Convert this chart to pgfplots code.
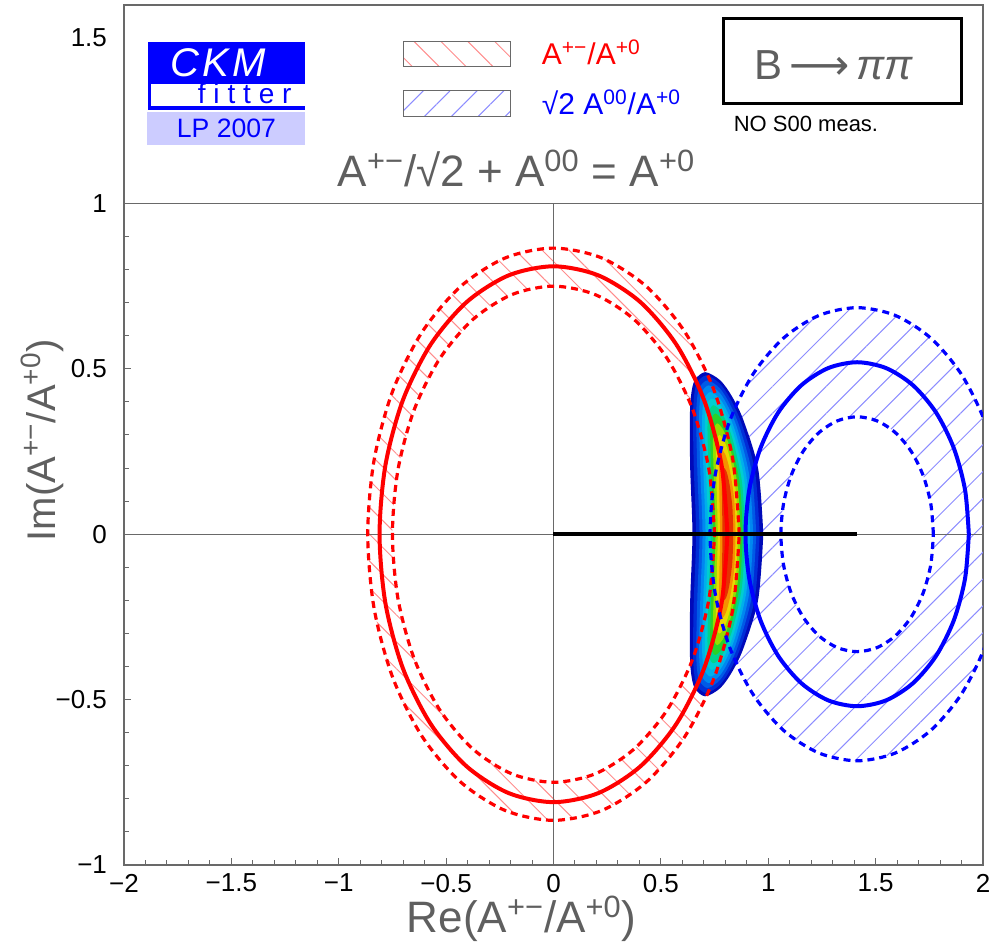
\documentclass[border=0pt]{standalone}
\usepackage{fontspec}
\setmainfont{Liberation Sans}
\newfontfamily\djv{DejaVu Sans}
\usepackage{pgfplots}
\usepackage{pgfplotstable}
\pgfplotsset{compat=1.18}
\usepgfplotslibrary{fillbetween}
\usetikzlibrary{patterns.meta}

\definecolor{axgray}{RGB}{105,105,105}
\definecolor{txtgray}{RGB}{95,95,95}
\definecolor{ckmblue}{RGB}{0,0,255}
\definecolor{lpbg}{RGB}{204,204,255}
\definecolor{hatchred}{RGB}{255,140,140}
\definecolor{hatchblue}{RGB}{140,140,255}
% likelihood levels, outermost to innermost
\definecolor{b1}{RGB}{0,10,185}
\definecolor{b2}{RGB}{0,45,215}
\definecolor{b3}{RGB}{0,90,230}
\definecolor{b4}{RGB}{0,135,240}
\definecolor{b5}{RGB}{0,175,235}
\definecolor{b6}{RGB}{0,205,210}
\definecolor{b7}{RGB}{0,210,140}
\definecolor{b8}{RGB}{40,210,40}
\definecolor{b9}{RGB}{150,220,0}
\definecolor{b10}{RGB}{235,215,0}
\definecolor{b11}{RGB}{245,145,0}
\definecolor{b12}{RGB}{230,50,0}

\newcommand{\spr}[1]{\textsuperscript{#1}}

% |A+-/A+0| constraint: central value and 1 sigma band (circles about 0)
\pgfplotstableread{
x y
0.81 0
0.7824 0.2096
0.7015 0.405
0.5728 0.5728
0.405 0.7015
0.2096 0.7824
0 0.81
-0.2096 0.7824
-0.405 0.7015
-0.5728 0.5728
-0.7015 0.405
-0.7824 0.2096
-0.81 0
-0.7824 -0.2096
-0.7015 -0.405
-0.5728 -0.5728
-0.405 -0.7015
-0.2096 -0.7824
0 -0.81
0.2096 -0.7824
0.405 -0.7015
0.5728 -0.5728
0.7015 -0.405
0.7824 -0.2096
0.81 0
}\redmid
\pgfplotstableread{
x y
0.865 0
0.8355 0.2239
0.7491 0.4325
0.6116 0.6116
0.4325 0.7491
0.2239 0.8355
0 0.865
-0.2239 0.8355
-0.4325 0.7491
-0.6116 0.6116
-0.7491 0.4325
-0.8355 0.2239
-0.865 0
-0.8355 -0.2239
-0.7491 -0.4325
-0.6116 -0.6116
-0.4325 -0.7491
-0.2239 -0.8355
0 -0.865
0.2239 -0.8355
0.4325 -0.7491
0.6116 -0.6116
0.7491 -0.4325
0.8355 -0.2239
0.865 0
}\redout
\pgfplotstableread{
x y
0.75 0
0.7244 0.1941
0.6495 0.375
0.5303 0.5303
0.375 0.6495
0.1941 0.7244
0 0.75
-0.1941 0.7244
-0.375 0.6495
-0.5303 0.5303
-0.6495 0.375
-0.7244 0.1941
-0.75 0
-0.7244 -0.1941
-0.6495 -0.375
-0.5303 -0.5303
-0.375 -0.6495
-0.1941 -0.7244
0 -0.75
0.1941 -0.7244
0.375 -0.6495
0.5303 -0.5303
0.6495 -0.375
0.7244 -0.1941
0.75 0
}\redin
% sqrt2 |A00/A+0| constraint: circles about sqrt2
\pgfplotstableread{
x y
1.934 0
1.9163 0.1346
1.8643 0.26
1.7817 0.3677
1.674 0.4503
1.5486 0.5023
1.414 0.52
1.2794 0.5023
1.154 0.4503
1.0463 0.3677
0.9637 0.26
0.9117 0.1346
0.894 0
0.9117 -0.1346
0.9637 -0.26
1.0463 -0.3677
1.154 -0.4503
1.2794 -0.5023
1.414 -0.52
1.5486 -0.5023
1.674 -0.4503
1.7817 -0.3677
1.8643 -0.26
1.9163 -0.1346
1.934 0
}\bluemid
\pgfplotstableread{
x y
2.099 0
2.0756 0.1773
2.0072 0.3425
1.8984 0.4844
1.7565 0.5932
1.5913 0.6616
1.414 0.685
1.2367 0.6616
1.0715 0.5932
0.9296 0.4844
0.8208 0.3425
0.7524 0.1773
0.729 0
0.7524 -0.1773
0.8208 -0.3425
0.9296 -0.4844
1.0715 -0.5932
1.2367 -0.6616
1.414 -0.685
1.5913 -0.6616
1.7565 -0.5932
1.8984 -0.4844
2.0072 -0.3425
2.0756 -0.1773
2.099 0
}\blueout
\pgfplotstableread{
x y
1.769 0
1.7569 0.0919
1.7214 0.1775
1.665 0.251
1.5915 0.3074
1.5059 0.3429
1.414 0.355
1.3221 0.3429
1.2365 0.3074
1.163 0.251
1.1066 0.1775
1.0711 0.0919
1.059 0
1.0711 -0.0919
1.1066 -0.1775
1.163 -0.251
1.2365 -0.3074
1.3221 -0.3429
1.414 -0.355
1.5059 -0.3429
1.5915 -0.3074
1.665 -0.251
1.7214 -0.1775
1.7569 -0.0919
1.769 0
}\bluein

\begin{document}
\begin{tikzpicture}
\begin{axis}[
  scale only axis, width=429.5pt, height=430pt,
  xmin=-2, xmax=2, ymin=-1, ymax=1.6,
  axis line style={axgray, line width=0.6pt},
  tick pos=left, tick align=inside,
  every tick/.style={axgray, line width=0.5pt},
  major tick length=3.5pt, minor tick length=2.5pt,
  xtick={-2,-1.5,-1,-0.5,0,0.5,1,1.5,2},
  xticklabels={−2,−1.5,−1,−0.5,0,0.5,1,1.5,2},
  minor x tick num=4,
  ytick={-1,-0.5,0,0.5,1},
  yticklabels={−1,−0.5,0,0.5,1},
  minor y tick num=4,
  extra y ticks={1.5}, extra y tick labels={1.5},
  extra y tick style={major tick length=0pt},
  tick label style={font=\fontsize{13}{13}\selectfont},
  yticklabel style={xshift=-5pt},
  xticklabel style={yshift=-1pt},
  xlabel={Re(A\spr{+−}/A\spr{+0})},
  ylabel={Im(A\spr{+−}/A\spr{+0})},
  label style={text=txtgray},
  xlabel style={font=\fontsize{22}{22}\selectfont, at={(axis description cs:0.463,-0.036)}, anchor=north, inner sep=0pt},
  ylabel style={font=\fontsize{20}{20}\selectfont, at={(axis description cs:-0.0955,0.494)}, anchor=center},
]
% combined likelihood, nested levels
\addplot[fill=b1, draw=none, smooth] coordinates {(0.977,0) (0.9535,0.196) (0.8856,0.343) (0.8314,0.4165) (0.7761,0.4655) (0.7064,0.49) (0.6573,0.4655) (0.6400,0.4165) (0.6348,0.343) (0.6367,0.196) (0.647,0) (0.6367,-0.196) (0.6348,-0.343) (0.6400,-0.4165) (0.6573,-0.4655) (0.7064,-0.49) (0.7761,-0.4655) (0.8314,-0.4165) (0.8856,-0.343) (0.9535,-0.196) (0.977,0)};
\addplot[fill=b2, draw=none, smooth] coordinates {(0.960,0) (0.9379,0.192) (0.8748,0.336) (0.8246,0.408) (0.7738,0.456) (0.7106,0.48) (0.6672,0.456) (0.6530,0.408) (0.6498,0.336) (0.6537,0.192) (0.664,0) (0.6537,-0.192) (0.6498,-0.336) (0.6530,-0.408) (0.6672,-0.456) (0.7106,-0.48) (0.7738,-0.456) (0.8246,-0.408) (0.8748,-0.336) (0.9379,-0.192) (0.960,0)};
\addplot[fill=b3, draw=none, smooth] coordinates {(0.944,0) (0.9235,0.186) (0.8657,0.3255) (0.8199,0.3953) (0.7736,0.4418) (0.7169,0.465) (0.6786,0.4418) (0.6667,0.3953) (0.6651,0.3255) (0.6701,0.186) (0.680,0) (0.6701,-0.186) (0.6651,-0.3255) (0.6667,-0.3953) (0.6786,-0.4418) (0.7169,-0.465) (0.7736,-0.4418) (0.8199,-0.3953) (0.8657,-0.3255) (0.9235,-0.186) (0.944,0)};
\addplot[fill=b4, draw=none, smooth] coordinates {(0.930,0) (0.9110,0.18) (0.8580,0.315) (0.8160,0.3825) (0.7741,0.4275) (0.7229,0.45) (0.6891,0.4275) (0.6792,0.3825) (0.6786,0.315) (0.6844,0.18) (0.694,0) (0.6844,-0.18) (0.6786,-0.315) (0.6792,-0.3825) (0.6891,-0.4275) (0.7229,-0.45) (0.7741,-0.4275) (0.8160,-0.3825) (0.8580,-0.315) (0.9110,-0.18) (0.930,0)};
\addplot[fill=b5, draw=none, smooth] coordinates {(0.916,0) (0.8988,0.172) (0.8511,0.301) (0.8135,0.3655) (0.7760,0.4085) (0.7306,0.43) (0.7012,0.4085) (0.6929,0.3655) (0.6931,0.301) (0.6992,0.172) (0.708,0) (0.6992,-0.172) (0.6931,-0.301) (0.6929,-0.3655) (0.7012,-0.4085) (0.7306,-0.43) (0.7760,-0.4085) (0.8135,-0.3655) (0.8511,-0.301) (0.8988,-0.172) (0.916,0)};
\addplot[fill=b6, draw=none, smooth] coordinates {(0.904,0) (0.8885,0.164) (0.8457,0.287) (0.8120,0.3485) (0.7783,0.3895) (0.738,0.41) (0.7121,0.3895) (0.7052,0.3485) (0.7059,0.287) (0.7119,0.164) (0.720,0) (0.7119,-0.164) (0.7059,-0.287) (0.7052,-0.3485) (0.7121,-0.3895) (0.738,-0.41) (0.7783,-0.3895) (0.8120,-0.3485) (0.8457,-0.287) (0.8885,-0.164) (0.904,0)};
\addplot[fill=b7, draw=none, smooth] coordinates {(0.892,0) (0.8781,0.156) (0.8400,0.273) (0.8100,0.3315) (0.7804,0.3705) (0.7451,0.39) (0.7228,0.3705) (0.7172,0.3315) (0.7184,0.273) (0.7245,0.156) (0.732,0) (0.7245,-0.156) (0.7184,-0.273) (0.7172,-0.3315) (0.7228,-0.3705) (0.7451,-0.39) (0.7804,-0.3705) (0.8100,-0.3315) (0.8400,-0.273) (0.8781,-0.156) (0.892,0)};
\addplot[fill=b8, draw=none, smooth] coordinates {(0.881,0) (0.8688,0.146) (0.8357,0.2555) (0.8097,0.3103) (0.7839,0.3468) (0.7534,0.365) (0.7343,0.3468) (0.7297,0.3103) (0.7309,0.2555) (0.7364,0.146) (0.743,0) (0.7364,-0.146) (0.7309,-0.2555) (0.7297,-0.3103) (0.7343,-0.3468) (0.7534,-0.365) (0.7839,-0.3468) (0.8097,-0.3103) (0.8357,-0.2555) (0.8688,-0.146) (0.881,0)};
\addplot[fill=b9, draw=none, smooth] coordinates {(0.870,0) (0.8598,0.134) (0.8319,0.2345) (0.8099,0.2848) (0.7883,0.3183) (0.7626,0.335) (0.7465,0.3183) (0.7427,0.2848) (0.7437,0.2345) (0.7484,0.134) (0.754,0) (0.7484,-0.134) (0.7437,-0.2345) (0.7427,-0.2848) (0.7465,-0.3183) (0.7626,-0.335) (0.7883,-0.3183) (0.8099,-0.2848) (0.8319,-0.2345) (0.8598,-0.134) (0.870,0)};
\addplot[fill=b10, draw=none, smooth] coordinates {(0.859,0) (0.8508,0.12) (0.8283,0.21) (0.8107,0.255) (0.7932,0.285) (0.7724,0.30) (0.7594,0.285) (0.7561,0.255) (0.7569,0.21) (0.7606,0.12) (0.765,0) (0.7606,-0.12) (0.7569,-0.21) (0.7561,-0.255) (0.7594,-0.285) (0.7724,-0.30) (0.7932,-0.285) (0.8107,-0.255) (0.8283,-0.21) (0.8508,-0.12) (0.859,0)};
\addplot[fill=b11, draw=none, smooth] coordinates {(0.848,0) (0.8420,0.102) (0.8254,0.1785) (0.8122,0.2168) (0.7992,0.2423) (0.7834,0.255) (0.7732,0.2423) (0.7704,0.2168) (0.7706,0.1785) (0.7728,0.102) (0.776,0) (0.7728,-0.102) (0.7706,-0.1785) (0.7704,-0.2168) (0.7732,-0.2423) (0.7834,-0.255) (0.7992,-0.2423) (0.8122,-0.2168) (0.8254,-0.1785) (0.8420,-0.102) (0.848,0)};
\addplot[fill=b12, draw=none, smooth] coordinates {(0.837,0) (0.8332,0.08) (0.8224,0.14) (0.8138,0.17) (0.8051,0.19) (0.7944,0.20) (0.7871,0.19) (0.7848,0.17) (0.7844,0.14) (0.7852,0.08) (0.787,0) (0.7852,-0.08) (0.7844,-0.14) (0.7848,-0.17) (0.7871,-0.19) (0.7944,-0.20) (0.8051,-0.19) (0.8138,-0.17) (0.8224,-0.14) (0.8332,-0.08) (0.837,0)};

% band boundaries used for the hatching
\addplot[draw=none, smooth, name path=rO] table {\redout};
\addplot[draw=none, smooth, name path=rI] table {\redin};
\addplot[draw=none, smooth, name path=bO] table {\blueout};
\addplot[draw=none, smooth, name path=bI] table {\bluein};
\addplot[draw=none, pattern={Lines[angle=-45,distance=9.5pt,line width=0.5pt]}, pattern color=hatchred] fill between[of=rO and rI];
\addplot[draw=none, pattern={Lines[angle=45,distance=9.5pt,line width=0.5pt]}, pattern color=hatchblue] fill between[of=bO and bI];

% reference lines
\addplot[axgray, line width=0.5pt] coordinates {(-2,0) (2,0)};
\addplot[axgray, line width=0.5pt] coordinates {(0,-1) (0,1)};
\addplot[axgray, line width=0.6pt] coordinates {(-2,1) (2,1)};

% contours
\addplot[red, line width=1.6pt, dash pattern=on 3.5pt off 2.5pt, smooth] table {\redout};
\addplot[red, line width=1.6pt, dash pattern=on 3.5pt off 2.5pt, smooth] table {\redin};
\addplot[red, line width=2pt, smooth] table {\redmid};
\addplot[blue, line width=1.6pt, dash pattern=on 3.5pt off 2.5pt, smooth] table {\blueout};
\addplot[blue, line width=1.6pt, dash pattern=on 3.5pt off 2.5pt, smooth] table {\bluein};
\addplot[blue, line width=2pt, smooth] table {\bluemid};

% A+0 direction
\addplot[black, line width=2pt] coordinates {(0,0) (1.414,0)};

% logo
\fill[ckmblue] (axis cs:-1.886,1.284) rectangle (axis cs:-1.155,1.489);
\fill[white] (axis cs:-1.872,1.296) rectangle (axis cs:-1.155,1.3625);
\node[anchor=base west, inner sep=0pt, text=white, font=\fontsize{20}{20}\selectfont\itshape\addfontfeature{LetterSpace=8}] at (axis cs:-1.7835,1.3837) {CKM};
\node[anchor=base west, inner sep=0pt, text=ckmblue, font=\fontsize{14}{14}\selectfont\addfontfeature{LetterSpace=28}] at (axis cs:-1.658,1.302) {fitter};
\fill[lpbg] (axis cs:-1.891,1.178) rectangle (axis cs:-1.155,1.275);
\node[anchor=base west, inner sep=0pt, text=ckmblue, font=\fontsize{13.3}{13.3}\selectfont] at (axis cs:-1.7556,1.1994) {LP 2007};

% legend
\draw[axgray, line width=0.5pt, pattern={Lines[angle=-45,distance=9.5pt,line width=0.5pt]}, pattern color=hatchred] (axis cs:-0.6985,1.4139) rectangle (axis cs:-0.2002,1.4894);
\draw[axgray, line width=0.5pt, pattern={Lines[angle=45,distance=9.5pt,line width=0.5pt]}, pattern color=hatchblue] (axis cs:-0.6985,1.2628) rectangle (axis cs:-0.2002,1.3414);
\node[anchor=base west, inner sep=0pt, text=red, font=\fontsize{15}{15}\selectfont] at (axis cs:-0.0559,1.420) {A\spr{+−}/A\spr{+0}};
\node[anchor=base west, inner sep=0pt, text=blue, font=\fontsize{15}{15}\selectfont] at (axis cs:-0.0559,1.269) {√2 A\spr{00}/A\spr{+0}};

% relation
\node[anchor=base, inner sep=0pt, text=txtgray, font=\fontsize{22}{22}\selectfont] at (axis cs:-0.1723,1.0514) {A\spr{+−}/√2 + A\spr{00} = A\spr{+0}};

% decay label
\draw[black, line width=1.5pt] (axis cs:0.7916,1.3021) rectangle (axis cs:1.8999,1.5589);
\node[anchor=base, inner sep=0pt, text=txtgray, font=\fontsize{21}{21}\selectfont] at (axis cs:1.306,1.3746) {B\,{\djv⟶}\,\textit{ππ}};
\node[anchor=base west, inner sep=0pt, text=black, font=\fontsize{11}{11}\selectfont] at (axis cs:0.838,1.2175) {NO S00 meas.};
\end{axis}
\pgfresetboundingbox
\path[use as bounding box] (-62pt,-39.5pt) rectangle (439.5pt,432.5pt);
\end{tikzpicture}
\end{document}
